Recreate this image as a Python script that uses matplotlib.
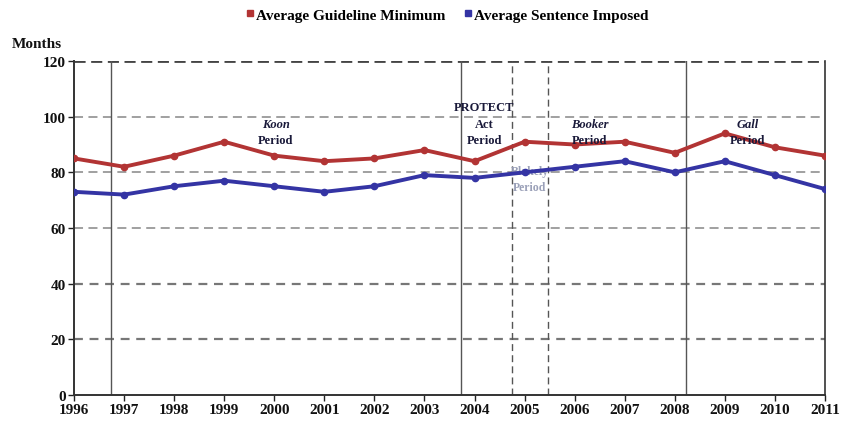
import matplotlib
matplotlib.use('Agg')
import matplotlib.pyplot as plt

years = list(range(1996, 2012))
guideline_min = [85, 82, 86, 91, 86, 84, 85, 88, 84, 91, 90, 91, 87, 94, 89, 86]
sentence_imposed = [73, 72, 75, 77, 75, 73, 75, 79, 78, 80, 82, 84, 80, 84, 79, 74]

solid_events = [1996.74, 2003.73, 2008.22]
dashed_events = [2004.75, 2005.47]

period_labels = [
    (2000.03, "Koon"),
    (2006.3, "Booker"),
    (2009.46, "Gall"),
]

red = '#b23434'
blue = '#3434a4'
serif = ['Liberation Serif', 'DejaVu Serif']

fig = plt.figure(figsize=(8.51, 4.27), dpi=100)
ax = fig.add_axes([0.087, 0.0726, 0.8824, 0.7822])

# grid
for v in [20, 40]:
    ax.axhline(v, color='#777777', lw=1.6, ls=(0, (4, 3)), zorder=1)
for v in [60, 80, 100]:
    ax.axhline(v, color='#999999', lw=1.3, ls=(0, (5, 3)), zorder=1)
ax.axhline(120, color='#444444', lw=2, ls=(0, (4, 2)), zorder=1)

for x in solid_events:
    ax.axvline(x, color='#555555', lw=1, zorder=1)
for x in dashed_events:
    ax.axvline(x, color='#555555', lw=1, ls=(0, (5, 3)), zorder=1)

ax.plot(years, guideline_min, color=red, lw=2.8, marker='o', ms=4.5, zorder=3)
ax.plot(years, sentence_imposed, color=blue, lw=2.8, marker='o', ms=4.5, zorder=3)

ax.set_xlim(1996, 2011)
ax.set_ylim(0, 120)
ax.set_xticks(years)
ax.set_yticks(range(0, 121, 20))
for lab in ax.get_xticklabels() + ax.get_yticklabels():
    lab.set_family(serif)
    lab.set_fontweight('bold')
    lab.set_fontsize(11)
ax.tick_params(direction='out', length=4, width=1, pad=2, colors='#222222')
ax.tick_params(axis='x', labelcolor='#111111')
ax.tick_params(axis='y', labelcolor='#111111')

ax.spines['top'].set_visible(False)
ax.spines['right'].set_color('#333333')
ax.spines['right'].set_linewidth(1.2)
ax.spines['left'].set_color('#333333')
ax.spines['left'].set_linewidth(1.4)
ax.spines['bottom'].set_color('#333333')
ax.spines['bottom'].set_linewidth(1.4)

# period annotations
for x, name in period_labels:
    ax.text(x, 97.4, name, ha='center', va='center', family=serif,
            style='italic', fontweight='bold', fontsize=9, color='#1a1a3a', zorder=4)
    ax.text(x, 91.6, "Period", ha='center', va='center', family=serif,
            fontweight='bold', fontsize=9, color='#1a1a3a', zorder=4)

for y, word in [(103.5, "PROTECT"), (97.4, "Act"), (91.6, "Period")]:
    ax.text(2004.2, y, word, ha='center', va='center', family=serif,
            fontweight='bold', fontsize=9, color='#1a1a3a', zorder=4)
ax.text(2005.1, 80.5, "Blakely", ha='center', va='center', family=serif,
        fontweight='bold', fontsize=8.5, color='#9aa0b8', zorder=2)
ax.text(2005.1, 74.7, "Period", ha='center', va='center', family=serif,
        fontweight='bold', fontsize=8.5, color='#9aa0b8', zorder=2)

fig.text(0.014, 0.895, "Months", family=serif, fontweight='bold', fontsize=11,
         ha='left', va='center', color='#111111')

# legend
handles = [
    plt.Line2D([], [], color=red, marker='s', ls='none', ms=4),
    plt.Line2D([], [], color=blue, marker='s', ls='none', ms=4),
]
fig.legend(handles, ["Average Guideline Minimum", "Average Sentence Imposed"],
           loc='center', bbox_to_anchor=(0.525, 0.963), ncol=2, frameon=False,
           prop={'family': serif, 'weight': 'bold', 'size': 11},
           handlelength=0.6, handletextpad=0.1, columnspacing=1.2)

plt.savefig('out.png', dpi=100)
plt.close()
